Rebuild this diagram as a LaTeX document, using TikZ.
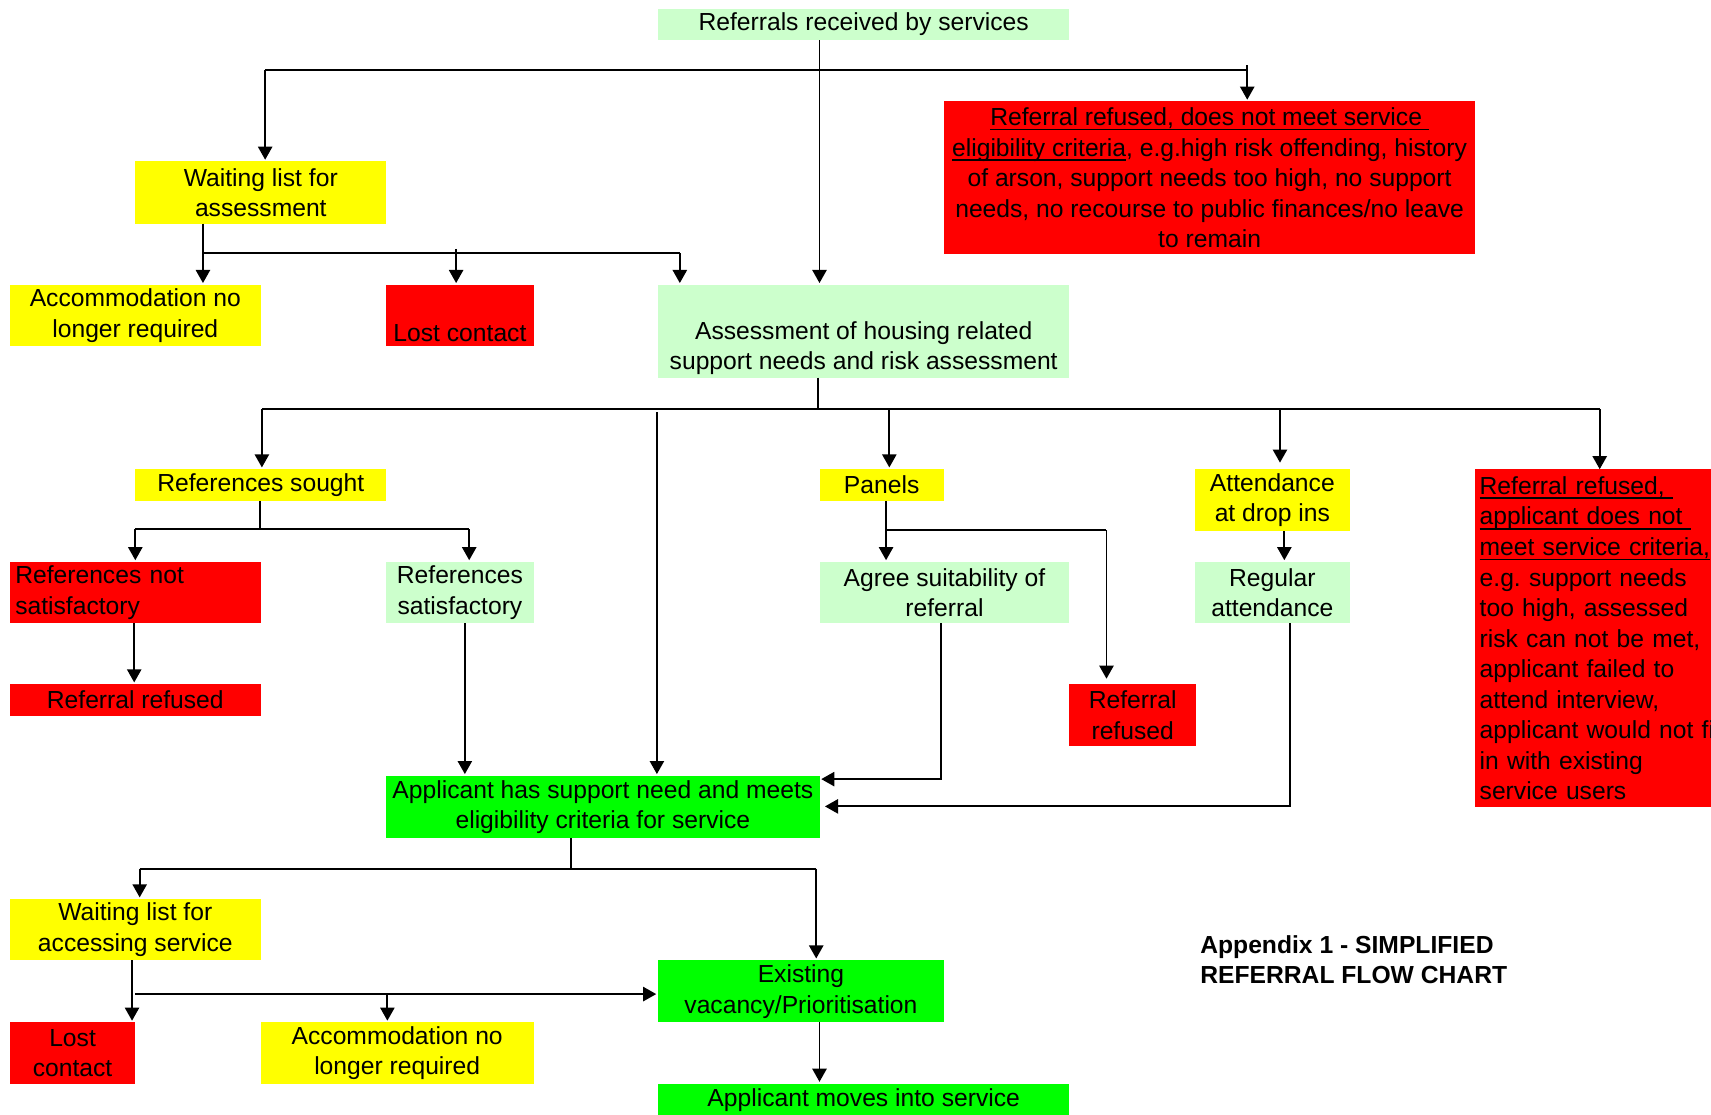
\documentclass[tikz,border=0pt]{standalone}
\usepackage{fontspec}
\setmainfont{Liberation Sans}
\usetikzlibrary{arrows.meta}
\definecolor{lgreen}{HTML}{CCFFCC}
\definecolor{yel}{HTML}{FFFF00}
\definecolor{rd}{HTML}{FF0000}
\definecolor{grn}{HTML}{00FF00}
\newcommand\myul[1]{\leavevmode\setbox0\hbox{#1}\rlap{\rule[-2.2pt]{\wd0}{0.8pt}}\box0}
\newcommand\bx[7]{\node[box,#6,minimum width={(#3-#1)*0.5pt},minimum height={(#4-#2)*0.5pt}] (#5) at (#1,#2) {#7};}
\frenchspacing
\begin{document}
\begin{tikzpicture}[x=0.5pt,y=-0.5pt,
  box/.style={rectangle, inner sep=0pt, outer sep=0pt, anchor=north west, align=center, font=\fontsize{11.3}{14}\selectfont\frenchspacing},
  conn/.style={line width=0.9pt},
  arr/.style={conn, -{Triangle[width=6.5pt,length=6pt]}, shorten >=0.8pt}]
\useasboundingbox (0,0) rectangle (1568,1021);
\clip (0,0) rectangle (1568,1021);
% boxes
\bx{603}{8}{980}{37}{ref}{fill=lgreen}{Referrals received by services}
\bx{124}{148}{354}{205}{wla}{fill=yel}{Waiting list for\\assessment}
\bx{865}{93}{1352}{233}{rr1}{fill=rd}{\myul{Referral refused, does not meet service }\\\myul{eligibility criteria}, e.g.high risk offending, history\\of arson, support needs too high, no support\\needs, no recourse to public finances/no leave\\to remain}
\bx{9}{261}{239}{317}{acc1}{fill=yel}{Accommodation no\\longer required}
\bx{354}{261}{489}{317}{lost1}{fill=rd}{\strut\\Lost contact}
\bx{603}{261}{980}{346}{assess}{fill=lgreen}{\strut\\Assessment of housing related\\support needs and risk assessment}
\bx{124}{430}{354}{459}{rsought}{fill=yel}{References sought}
\bx{751}{430}{865}{459}{panels}{fill=yel}{Panels}
\bx{1095}{430}{1237}{487}{attend}{fill=yel}{Attendance\\at drop ins}
\bx{1352}{430}{1620}{740}{rr2}{fill=rd,align=left,text width=130pt}{\myul{Referral refused, }\\\myul{applicant does not }\\\myul{meet service criteria,}\\e.g. support needs\\too high, assessed\\risk can not be met,\\applicant failed to\\attend interview,\\applicant would not fit\\in with existing\\service users}
\bx{9}{515}{239}{571}{rns}{fill=rd,align=left,text width=110pt}{References not\\satisfactory}
\bx{354}{515}{489}{571}{rs}{fill=lgreen}{References\\satisfactory}
\bx{751}{515}{980}{571}{agree}{fill=lgreen}{Agree suitability of\\referral}
\bx{1095}{515}{1237}{571}{regular}{fill=lgreen}{Regular\\attendance}
\bx{9}{627}{239}{656}{rref1}{fill=rd}{Referral refused}
\bx{980}{627}{1096}{684}{rref2}{fill=rd}{Referral\\refused}
\bx{354}{711}{751}{768}{app}{fill=grn}{Applicant has support need and meets\\eligibility criteria for service}
\bx{9}{824}{239}{880}{wls}{fill=yel}{Waiting list for\\accessing service}
\bx{603}{880}{865}{937}{exist}{fill=grn}{Existing\\vacancy/Prioritisation}
\bx{9}{937}{124}{993}{lost2}{fill=rd}{Lost\\contact}
\bx{239}{937}{489}{993}{acc2}{fill=yel}{Accommodation no\\longer required}
\bx{603}{993}{980}{1023}{moves}{fill=grn}{Applicant moves into service}
\node[box,align=left,font=\fontsize{11.3}{14}\selectfont\bfseries] (title) at (1100,857) {Appendix 1 - SIMPLIFIED\\REFERRAL FLOW CHART};
% connectors: top
\coordinate (xA) at (751,64);
\draw[arr] (ref.south -| xA) -- (assess.north -| xA);
\coordinate (b1l) at (243,64); \coordinate (b1r) at (1143,64); \coordinate (b1t) at (1143,60);
\draw[conn] (b1l) -- (b1r);
\draw[arr] (b1l) -- (wla.north -| b1l);
\draw[arr] (b1t) -- (rr1.north -| b1t);
% waiting list for assessment
\coordinate (b2l) at (186,232); \coordinate (b2r) at (623,232); \coordinate (b2m) at (418,228);
\draw[conn] (wla.south -| b2l) -- (b2l) -- (b2r);
\draw[arr] (b2l) -- (acc1.north -| b2l);
\draw[arr] (b2m) -- (lost1.north -| b2m);
\draw[arr] (b2r) -- (assess.north -| b2r);
% assessment branches
\coordinate (b3m) at (750,375); \coordinate (b3l) at (240,375); \coordinate (b3r) at (1466,375);
\coordinate (b3p) at (815,375); \coordinate (b3d) at (1173,375); \coordinate (b3s) at (602,378);
\draw[conn] (assess.south -| b3m) -- (b3m);
\draw[conn] (b3l) -- (b3r);
\draw[arr] (b3l) -- (rsought.north -| b3l);
\draw[arr] (b3p) -- (panels.north -| b3p);
\draw[arr,shorten >=3pt] (b3d) -- (attend.north -| b3d);
\draw[arr,shorten >=0pt] (b3r) -- (rr2.north -| b3r);
\draw[arr] (b3s) -- (app.north -| b3s);
% references
\coordinate (b4m) at (238,485); \coordinate (b4l) at (124,485); \coordinate (b4r) at (430,485);
\draw[conn] (rsought.south -| b4m) -- (b4m);
\draw[conn] (b4l) -- (b4r);
\draw[arr] (b4l) -- (rns.north -| b4l);
\draw[arr] (b4r) -- (rs.north -| b4r);
\coordinate (c1) at (123,600); \draw[arr] (rns.south -| c1) -- (rref1.north -| c1);
\coordinate (c2) at (426,600); \draw[arr] (rs.south -| c2) -- (app.north -| c2);
% panels
\coordinate (b5l) at (812,486); \coordinate (b5r) at (1014,486);
\draw[arr] (panels.south -| b5l) -- (agree.north -| b5l);
\draw[conn] (b5l) -- (b5r);
\draw[arr,shorten >=2.5pt] (b5r) -- (rref2.north -| b5r);
\coordinate (c3) at (862,714);
\draw[arr] (agree.south -| c3) -- (c3) -- (app.east |- c3);
% attendance
\coordinate (c4) at (1177,500);
\draw[arr] (attend.south -| c4) -- (regular.north -| c4);
\coordinate (c5) at (1182,739);
\draw[arr,shorten >=2.5pt] (regular.south -| c5) -- (c5) -- (app.east |- c5);
% applicant branches
\coordinate (b6m) at (523,796); \coordinate (b6l) at (128,796); \coordinate (b6r) at (748,796);
\draw[conn] (app.south -| b6m) -- (b6m);
\draw[conn] (b6l) -- (b6r);
\draw[arr] (b6l) -- (wls.north -| b6l);
\draw[arr] (b6r) -- (exist.north -| b6r);
\coordinate (c6) at (121,900);
\draw[arr] (wls.south -| c6) -- (lost2.north -| c6);
\coordinate (b7l) at (124,911); \coordinate (b7m) at (355,911);
\draw[arr] (b7l) -- (exist.west |- b7l);
\draw[arr] (b7m) -- (acc2.north -| b7m);
\coordinate (c7) at (751,960);
\draw[arr] (exist.south -| c7) -- (moves.north -| c7);
\end{tikzpicture}
\end{document}
